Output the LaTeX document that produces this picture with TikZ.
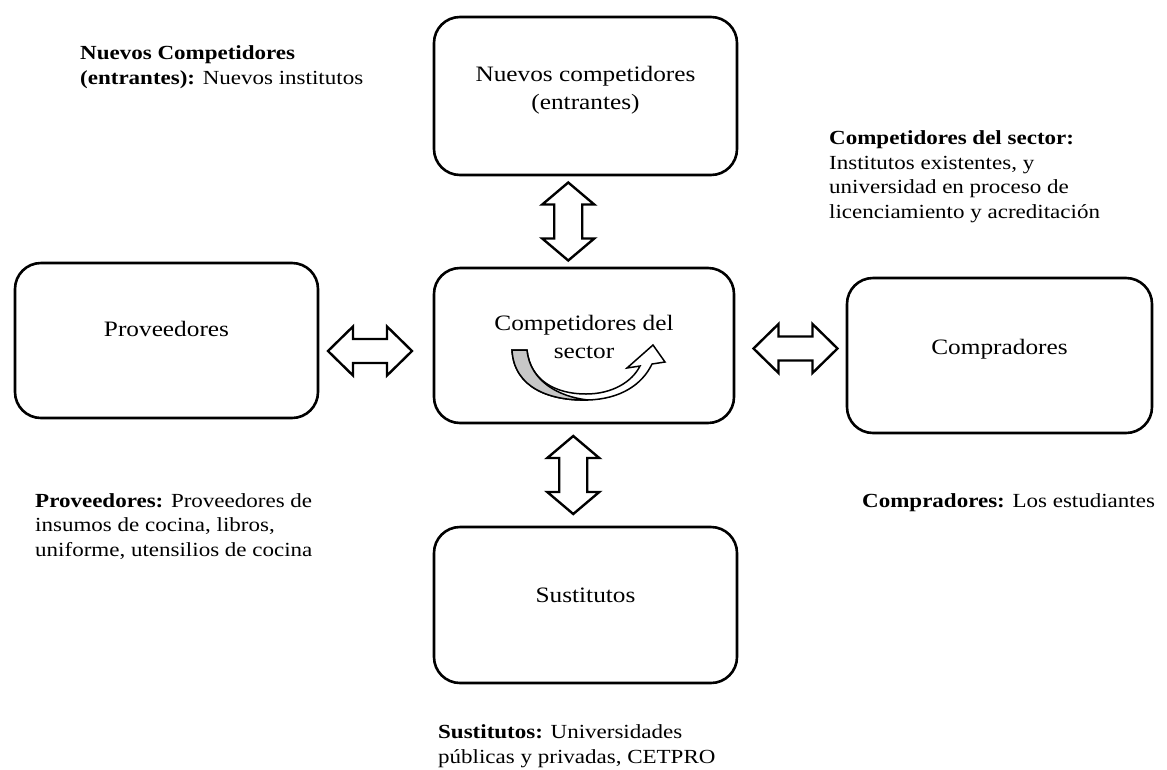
\documentclass[tikz,border=0pt]{standalone}
\usepackage{fontspec}
\setmainfont{Liberation Serif}[FakeStretch=1.15]
\usetikzlibrary{calc}

\tikzset{
  x=1pt, y=-1pt,
  forcebox/.style={draw=black, line width=2.6pt, rounded corners=26pt, fill=white,
    minimum width=303pt, minimum height=156pt, inner sep=0pt},
  boxtext/.style={font=\fontsize{22}{28}\selectfont, align=center, inner sep=0pt, anchor=base},
  note/.style={font=\fontsize{20}{24.5}\selectfont, align=left, anchor=base west, inner sep=0pt},
  blockarrow/.style={draw=black, line width=2.4pt, fill=white, line join=miter},
  % horizontal two-headed block arrow, centred on the pic origin
  pics/harrow/.style={code={
    \path[blockarrow] (-42,0) -- (-17,-24.5) -- (-17,-12) -- (17,-12) -- (17,-24.5)
      -- (42,0) -- (17,24.5) -- (17,12) -- (-17,12) -- (-17,24.5) -- cycle;
  }},
  % vertical two-headed block arrow, centred on the pic origin
  pics/varrow/.style={code={
    \path[blockarrow] (0,-39) -- (26,-17) -- (14,-17) -- (14,17) -- (26,17)
      -- (0,39) -- (-26,17) -- (-14,17) -- (-14,-17) -- (-26,-17) -- cycle;
  }},
}

\begin{document}
\begin{tikzpicture}
\useasboundingbox (0,0) rectangle (1167,769);

% the five forces
\node[forcebox, minimum height=158pt] (entrantes) at (585.5,96) {};
\node[forcebox, minimum width=300pt, minimum height=155pt] (sector) at (584,345.5) {};
\node[forcebox, minimum height=155pt] (proveedores) at (166.5,340.5) {};
\node[forcebox, minimum width=305pt, minimum height=155pt] (compradores) at (999.5,355.5) {};
\node[forcebox] (sustitutos) at (585.5,605) {};

\node[boxtext] (tEntrantes) at ($(entrantes.center)+(0,13)$) {Nuevos competidores\\(entrantes)};
\node[boxtext] (tSector) at ($(sector.center)+(0,12.5)$) {Competidores del\\sector};
\node[boxtext] (tProveedores) at ($(proveedores.center)+(0,-4)$) {Proveedores};
\node[boxtext] (tCompradores) at ($(compradores.center)+(0,-1)$) {Compradores};
\node[boxtext] (tSustitutos) at ($(sustitutos.center)+(0,-3)$) {Sustitutos};

% two-headed arrows between the centre and each force
\path ($(entrantes.south)!0.5!(sector.north)$)+(-16.5,0) pic {varrow};
\path ($(sector.south)!0.5!(sustitutos.north)$)+(-11.5,0) pic {varrow};
\path ($(proveedores.east)!0.5!(sector.west)$)+(-6,8) pic {harrow};
\path ($(sector.east)!0.5!(compradores.west)$)+(5,-2) pic {harrow};

% rivalry arrow inside the centre box
\coordinate (rivA) at (512,350);
\coordinate (rivB) at (527,350);
\path[draw=black, line width=1.5pt, fill=white, line join=miter]
  (rivA) .. controls (514,388) and (550,401) .. (588,400)
  .. controls (620,399) and (642,385) .. (652,364)
  -- (665,362) -- (653,345) -- (627,368) -- (640,366)
  .. controls (632,382) and (612,394) .. (586,394)
  .. controls (555,394) and (530,380) .. (rivB) -- cycle;
\path[draw=black, line width=1.5pt, fill=black!22]
  (rivA) .. controls (514,388) and (550,401) .. (588,400)
  .. controls (560,397) and (530,382) .. (rivB) -- cycle;

% notes
\node[note] (nEntrantes) at (80,84) {\textbf{Nuevos Competidores}\\\textbf{(entrantes):} Nuevos institutos};
\node[note] (nSector) at (829,218) {\textbf{Competidores del sector:}\\Institutos existentes, y\\universidad en proceso de\\licenciamiento y acreditación};
\node[note] (nProveedores) at (35,556) {\textbf{Proveedores:} Proveedores de\\insumos de cocina, libros,\\uniforme, utensilios de cocina};
\node[note] (nCompradores) at (862,507) {\textbf{Compradores:} Los estudiantes};
\node[note] (nSustitutos) at (438,763) {\textbf{Sustitutos:} Universidades\\públicas y privadas, CETPRO};
\end{tikzpicture}
\end{document}
